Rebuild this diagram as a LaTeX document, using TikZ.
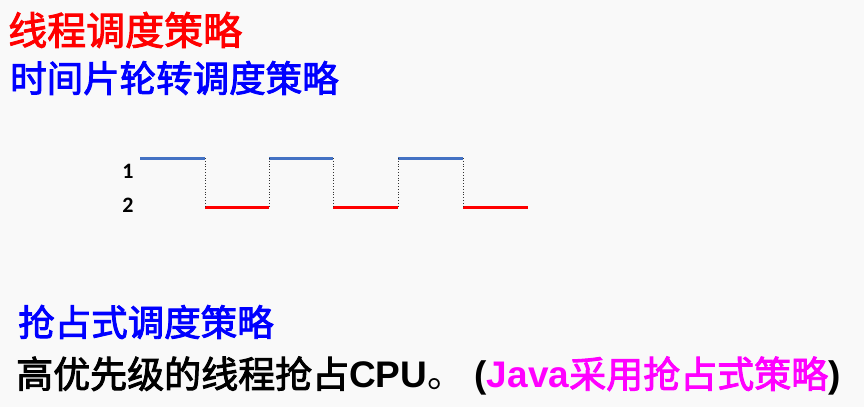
\documentclass[tikz,border=0pt]{standalone}
\usepackage{fontspec}
\setmainfont{Liberation Sans}
\newfontfamily\cjkfam{Noto Sans CJK SC}
\newcommand\heavy[1]{\special{pdf:literal direct 2 Tr 0.9 w}#1\special{pdf:literal direct 0 Tr}}
\newcommand\cjk{\cjkfam\mdseries}
\newfontfamily\calib{Carlito}
\definecolor{bgc}{HTML}{F9F9F9}
\definecolor{wblue}{HTML}{4472C4}
\definecolor{tblue}{HTML}{0000FF}
\definecolor{tmag}{HTML}{FF00FF}
\begin{document}
\begin{tikzpicture}[x=1pt,y=-1pt,
  txt/.style={anchor=west,inner sep=0pt,font=\bfseries\fontsize{37}{37}\selectfont},
  lvl/.style={inner sep=0pt,font=\calib\bfseries\fontsize{22}{22}\selectfont},
  hiwave/.style={wblue,line width=3pt},
  lowave/.style={red,line width=3pt},
  sw/.style={black!80,dotted,line width=0.8pt}]
\fill[bgc] (0,0) rectangle (864,407);
\useasboundingbox (0,0) rectangle (864,407);
\node[txt,text=red,font=\cjk\fontsize{39}{39}\selectfont] (t1) at (8,30) {\heavy{线程调度策略}};
\node[txt,text=tblue,font=\cjk\fontsize{36.5}{36.5}\selectfont] (t2) at (10,78) {\heavy{时间片轮转调度策略}};
\node[txt,text=tblue,font=\cjk\fontsize{36.5}{36.5}\selectfont] (t3) at (18,322) {\heavy{抢占式调度策略}};
\node[txt] (t4) at (16,376) {{\cjk \heavy{高优先级的线程抢占}}CPU{\cjk 。} (\textcolor{tmag}{Java{\cjk \heavy{采用抢占式策略}}})};
\node[lvl] (l1) at (128,171) {1};
\node[lvl] (l2) at (128,205) {2};
\foreach \i/\x in {0/140,1/205,2/269,3/333,4/398,5/463,6/528}{
  \coordinate (h\i) at (\x,158);
  \coordinate (d\i) at (\x,207);
}
\draw[hiwave] (h0) -- (h1);
\draw[lowave] (d1) -- (d2);
\draw[hiwave] (h2) -- (h3);
\draw[lowave] (d3) -- (d4);
\draw[hiwave] (h4) -- (h5);
\draw[lowave] (d5) -- (d6);
\foreach \i in {1,...,5}{\draw[sw] (h\i) -- (d\i);}
\end{tikzpicture}
\end{document}
